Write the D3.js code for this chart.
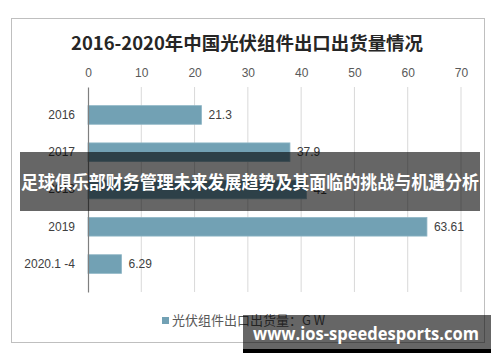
<!DOCTYPE html>
<html>
<head>
<meta charset="utf-8">
<script src="https://cdn.jsdelivr.net/npm/d3@7"></script>
<style>
  body { margin: 0; background: #fff; }
  text { font-family: "Noto Sans CJK SC", "Noto Sans", sans-serif; }
</style>
</head>
<body>
<div id="chart"></div>
<script>
var years = ["2016", "2017", "2018", "2019", "2020.1 -4"];
var values = [21.3, 37.9, 41.0, 63.61, 6.29];
var ticks = [0, 10, 20, 30, 40, 50, 60, 70];
var legendLabel = "光伏组件出口出货量：G W";
var title = "2016-2020年中国光伏组件出口出货量情况";

var W = 500, H = 362;
var margin = {top: 87, right: 39, bottom: 70, left: 88},
    width = 461 - margin.left,
    height = 292 - margin.top;

var svg = d3.select("#chart")
  .append("svg")
    .attr("width", W)
    .attr("height", H);

// chart frame
svg.append("rect")
  .attr("x", 11.5).attr("y", 18.5)
  .attr("width", 473).attr("height", 324)
  .attr("fill", "#fff")
  .attr("stroke", "#bfbfbf");

svg.append("text")
  .attr("x", 247).attr("y", 50)
  .attr("text-anchor", "middle")
  .attr("font-size", 18)
  .attr("font-weight", "bold")
  .attr("fill", "#262626")
  .attr("textLength", 352)
  .attr("lengthAdjust", "spacingAndGlyphs")
  .text(title);

var g = svg.append("g")
  .attr("transform", "translate(" + margin.left + "," + margin.top + ")");

var x = d3.scaleLinear()
  .domain([0, 70])
  .range([0, width]);

var y = d3.scaleBand()
  .domain(years)
  .range([0, height])
  .padding(0.5);

// gridlines
g.selectAll(".grid")
  .data(ticks.slice(1))
  .enter().append("line")
    .attr("x1", function(d) { return x(d); })
    .attr("x2", function(d) { return x(d); })
    .attr("y1", 0).attr("y2", height)
    .attr("stroke", "#d9d9d9");

var xAxis = g.append("g")
  .call(d3.axisTop(x).tickValues(ticks).tickSize(0).tickPadding(10));
xAxis.select(".domain").remove();
xAxis.selectAll("text")
  .attr("font-size", 12)
  .attr("fill", "#595959")
  .style("font-family", "'Liberation Sans', sans-serif");

g.selectAll(".bar")
  .data(values)
  .enter().append("rect")
    .attr("x", 0)
    .attr("y", function(d, i) { return y(years[i]); })
    .attr("width", function(d) { return x(d); })
    .attr("height", y.bandwidth())
    .attr("fill", "#72a1b4")
    .attr("stroke", "#8fb6c6")
    .attr("stroke-width", 0.8);

var yAxis = g.append("g")
  .call(d3.axisLeft(y).tickSize(0).tickPadding(13));
yAxis.select(".domain").attr("stroke", "#7f7f7f").attr("stroke-width", 1.2);
yAxis.selectAll("text")
  .attr("font-size", 12)
  .attr("fill", "#404040")
  .style("font-family", "'Liberation Sans', sans-serif");

g.selectAll(".lbl")
  .data(values)
  .enter().append("text")
    .attr("x", function(d) { return x(d) + 7; })
    .attr("y", function(d, i) { return y(years[i]) + y.bandwidth() / 2; })
    .attr("dy", "0.35em")
    .attr("font-size", 12)
    .attr("fill", "#404040")
    .style("font-family", "'Liberation Sans', sans-serif")
    .text(function(d) { return d; });

// legend
svg.append("rect")
  .attr("x", 162).attr("y", 317)
  .attr("width", 7).attr("height", 7)
  .attr("fill", "#72a1b4");
svg.append("text")
  .attr("x", 172).attr("y", 325)
  .attr("font-size", 13)
  .attr("fill", "#595959")
  .text(legendLabel);

// overlay banner
svg.append("rect")
  .attr("x", 20).attr("y", 152)
  .attr("width", 460).attr("height", 59)
  .attr("fill", "#000")
  .attr("fill-opacity", 0.6);
svg.append("text")
  .attr("x", 250).attr("y", 189)
  .attr("text-anchor", "middle")
  .attr("font-size", 18)
  .attr("font-weight", "bold")
  .attr("fill", "#fff")
  .attr("textLength", 458)
  .attr("lengthAdjust", "spacingAndGlyphs")
  .text("足球俱乐部财务管理未来发展趋势及其面临的挑战与机遇分析");

// watermark
svg.append("rect")
  .attr("x", 243).attr("y", 315)
  .attr("width", 248).attr("height", 34)
  .attr("fill", "#000")
  .attr("fill-opacity", 0.6);
svg.append("rect")
  .attr("x", 243).attr("y", 349)
  .attr("width", 248).attr("height", 4)
  .attr("fill", "#000");
svg.append("text")
  .attr("x", 253).attr("y", 340)
  .attr("font-size", 17)
  .attr("font-weight", "bold")
  .attr("fill", "#fff")
  .style("font-family", "'Open Sans', sans-serif")
  .attr("textLength", 226)
  .attr("lengthAdjust", "spacingAndGlyphs")
  .text("www.ios-speedesports.com");
</script>
</body>
</html>
